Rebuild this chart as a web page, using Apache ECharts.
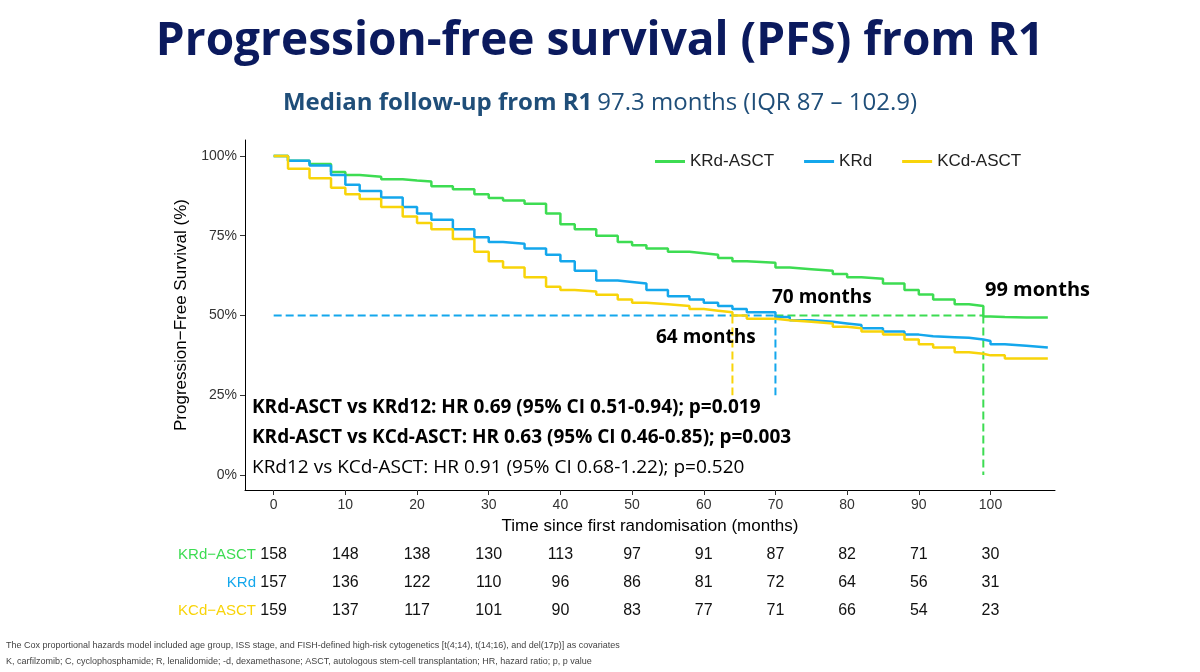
<!DOCTYPE html><html><head><meta charset="utf-8"><script src="https://cdn.jsdelivr.net/npm/echarts@6/dist/echarts.min.js"></script></head><body style="margin:0;background:#fff"><div id="c" style="width:1200px;height:672px"></div><script>
const months = [0,2,5,8,10,12,15,18,20,22,25,28,30,32,35,38,40,42,45,48,50,52,55,58,60,62,64,66,70,72,75,78,80,82,85,88,90,92,95,97,99,100,102,105,108];
const krdAsct = [100,98.5,97.5,95,94,93.5,92.7,92.3,92,90.5,89.6,88,86.8,86,85,82,78.6,77,75,73,72,71,70,69.5,69,68,67,66.5,65,64.5,64,63,62,61.5,60,58,56.6,55,53.5,53,49.7,49.5,49.4,49.4,49.4];
const krd = [100,98.5,97,94,91,89,87,84,82,80,77,74.5,73,72.5,71,69,67,64,61,60.5,60,58,56,55,54,53,52,51,49.5,48.5,48,47.5,47,46,45,44,43.5,43.2,43,42.5,42,41,40.5,40,40];
const kcdAsct = [100,96,93,90,88,86.5,84,81,79,77,74,70,67,65,62,59,58,57.5,56.5,55,54,53.5,53,52,51.5,51,50,49,48.5,48,47.5,46.5,46,45,44,42.5,41,40,38.5,38,37.5,37.5,36.5,36.5,36.5];
const tickMonths = [0,10,20,30,40,50,60,70,80,90,100];
const yTicks = [0,25,50,75,100];
const riskKrdAsct = [158,148,138,130,113,97,91,87,82,71,30];
const riskKrd = [157,136,122,110,96,86,81,72,64,56,31];
const riskKcdAsct = [159,137,117,101,90,83,77,71,66,54,23];
const medians = [64,70,99];

const G='#3ddc52',B='#14a7ec',Y='#f8d40a';
const toPairs=a=>months.map((m,i)=>[m,a[i]]);
const chart=echarts.init(document.getElementById('c'));
const ser=(name,data,col)=>({name,type:'line',step:'end',data:toPairs(data),symbol:'none',lineStyle:{color:col,width:2.5},itemStyle:{color:col},z:3});
chart.setOption({
 animation:false,
 title:[{text:'Progression-free survival (PFS) from R1',left:'center',top:14,textStyle:{fontFamily:'Open Sans',fontSize:46,fontWeight:'bold',color:'#0b1a5e'}},
  {text:'{b|Median follow-up from R1} {n|97.3 months (IQR 87 – 102.9)}',left:'center',top:86,textStyle:{fontWeight:'normal',rich:{b:{fontFamily:'Open Sans',fontSize:24,fontWeight:'bold',color:'#1f4e79'},n:{fontFamily:'Open Sans',fontSize:24,fontWeight:'normal',color:'#1f4e79'}}}}],
 legend:{top:148,left:650,itemGap:30,itemWidth:30,itemHeight:3,icon:'rect',textStyle:{fontSize:17,color:'#222',fontFamily:'Liberation Sans'},data:['KRd-ASCT','KRd','KCd-ASCT']},
 grid:{left:245,right:145,top:140,bottom:182},
 xAxis:{type:'value',min:-4,max:109,splitLine:{show:false},axisLine:{onZero:false,lineStyle:{color:'#000'}},
  axisTick:{customValues:tickMonths,lineStyle:{color:'#333'}},axisLabel:{customValues:tickMonths,fontSize:14,color:'#333',fontFamily:'Liberation Sans'},
  name:'Time since first randomisation (months)',nameLocation:'middle',nameGap:28,nameTextStyle:{fontSize:17,color:'#000',fontFamily:'Liberation Sans'}},
 yAxis:{type:'value',min:-4.7,max:105,splitLine:{show:false},axisLine:{show:true,onZero:false,lineStyle:{color:'#000'}},
  axisTick:{show:true,customValues:yTicks,lineStyle:{color:'#333'}},axisLabel:{customValues:yTicks,formatter:v=>v+'%',fontSize:14,color:'#333',fontFamily:'Liberation Sans'},
  name:'Progression−Free Survival (%)',nameLocation:'middle',nameGap:55,nameTextStyle:{fontSize:17,color:'#000',fontFamily:'Liberation Sans'}},
 series:[ser('KRd-ASCT',krdAsct,G),ser('KRd',krd,B),ser('KCd-ASCT',kcdAsct,Y),
  {type:'line',data:[[0,50],[medians[1],50]],symbol:'none',lineStyle:{color:B,type:'dashed',width:2},z:2},
  {type:'line',data:[[medians[1],50],[medians[2],50]],symbol:'none',lineStyle:{color:G,type:'dashed',width:2},z:2},
  {type:'line',data:[[medians[0],50],[medians[0],25]],symbol:'none',lineStyle:{color:Y,type:'dashed',width:2},z:2},
  {type:'line',data:[[medians[1],50],[medians[1],25]],symbol:'none',lineStyle:{color:B,type:'dashed',width:2},z:2},
  {type:'line',data:[[medians[2],50],[medians[2],0]],symbol:'none',lineStyle:{color:G,type:'dashed',width:2},z:2}]
});
const g=[];
const T=(x,y,t,o)=>g.push({type:'text',x,y,style:Object.assign({text:t,fontFamily:'Open Sans',fontSize:19,fill:'#000'},o||{}),z:10});
const bo={fontWeight:'bold'};
T(656,328,'64 months',bo);T(772,288,'70 months',bo);T(985,280,'99 months',Object.assign({},bo,{fontSize:20}));
T(252,398,'KRd-ASCT vs KRd12: HR 0.69 (95% CI 0.51-0.94); p=0.019',bo);
T(252,428,'KRd-ASCT vs KCd-ASCT: HR 0.63 (95% CI 0.46-0.85); p=0.003',bo);
T(252,458,'KRd12 vs KCd-ASCT: HR 0.91 (95% CI 0.68-1.22); p=0.520');
const rows=[['KRd−ASCT',riskKrdAsct,G,555],['KRd',riskKrd,B,583],['KCd−ASCT',riskKcdAsct,Y,611]];
rows.forEach(r=>{
 T(256,r[3],r[0],{fill:r[2],fontSize:15,fontFamily:'Liberation Sans',align:'right',verticalAlign:'middle'});
 tickMonths.forEach((m,i)=>{const px=chart.convertToPixel({xAxisIndex:0},m);
  T(px,r[3],String(r[1][i]),{fontSize:16,fontFamily:'Liberation Sans',fill:'#111',align:'center',verticalAlign:'middle'});});
});
T(6,641,'The Cox proportional hazards model included age group, ISS stage, and FISH-defined high-risk cytogenetics [t(4;14), t(14;16), and del(17p)] as covariates',{fontSize:9,fill:'#444',fontFamily:'Liberation Sans'});
T(6,657,'K, carfilzomib; C, cyclophosphamide; R, lenalidomide; -d, dexamethasone; ASCT, autologous stem-cell transplantation; HR, hazard ratio; p, p value',{fontSize:9,fill:'#444',fontFamily:'Liberation Sans'});
chart.setOption({graphic:g});
</script></body></html>
